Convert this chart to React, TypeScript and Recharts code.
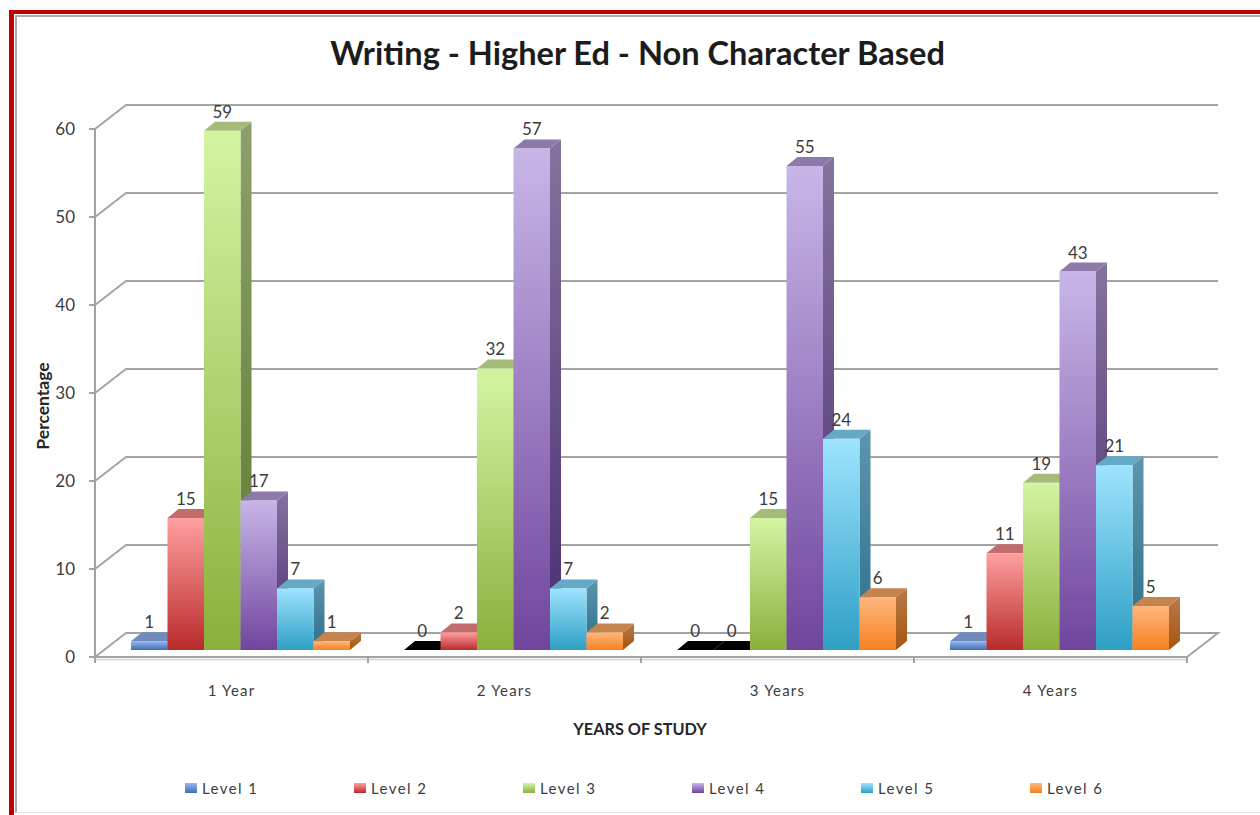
import { Bar, BarChart, CartesianGrid, LabelList, Legend, XAxis, YAxis } from "recharts";

const categories = ["1 Year", "2 Years", "3 Years", "4 Years"];
const levelNames = ["Level 1", "Level 2", "Level 3", "Level 4", "Level 5", "Level 6"];
const level1 = [1, 0, 0, 1];
const level2 = [15, 2, 0, 11];
const level3 = [59, 32, 15, 19];
const level4 = [17, 57, 55, 43];
const level5 = [7, 7, 24, 21];
const level6 = [1, 2, 6, 5];
const yTicks = [0, 10, 20, 30, 40, 50, 60];

const levels = [level1, level2, level3, level4, level5, level6];
const rows = categories.map((name, c) => {
  const row: Record<string, string | number> = { name };
  levelNames.forEach((lvl, l) => (row[lvl] = levels[l][c]));
  return row;
});

// front-light, front-dark, top face, side-light, side-dark
const tones = [
  ["#93b8f0", "#3f6fb5", "#6f8abb", "#5f7aa8", "#34558c"],
  ["#ff9f9f", "#b92b2b", "#c26c6c", "#a85a5a", "#7e2020"],
  ["#d3f5a2", "#8bb03d", "#a5bb7a", "#8da06c", "#5c7a2a"],
  ["#c8b6e8", "#70459d", "#8c7ba8", "#85739f", "#4a2d70"],
  ["#9ee4ff", "#2e9fc4", "#64a9c5", "#5d95ac", "#2a6e8b"],
  ["#ffb67f", "#f5811f", "#c5834e", "#b97a48", "#a6550f"],
];

const AXIS_GREY = "#a3a3a3";
const TEXT_GREY = "#3c3c3c";
const BODY_FONT = "Lato, 'Open Sans', sans-serif";

const PLOT_LEFT = 95;
const PLOT_RIGHT = 1187;
const PLOT_TOP = 129;
const PLOT_BOTTOM = 657;
const HALF_BAND = (PLOT_RIGHT - PLOT_LEFT) / categories.length / 2;

// wall sits behind the front plane, bars sit part way into the floor
const WALL_DX = 31;
const WALL_DY = -24;
const BAR_DX = 9;
const BAR_DY = -7;
const DEPTH_X = 11;
const DEPTH_Y = -9;

function Box3D({ x, y, width, height, tone }: any) {
  const left = x + BAR_DX;
  const top = y + BAR_DY;
  const right = left + width;
  const bottom = top + height;
  const topFace = `${left},${top} ${left + DEPTH_X},${top + DEPTH_Y} ${right + DEPTH_X},${top + DEPTH_Y} ${right},${top}`;
  if (height <= 0) {
    return <polygon points={topFace} fill="#000000" />;
  }
  return (
    <g>
      <polygon
        points={`${right},${top} ${right + DEPTH_X},${top + DEPTH_Y} ${right + DEPTH_X},${bottom + DEPTH_Y} ${right},${bottom}`}
        fill={`url(#side${tone})`}
      />
      <polygon points={topFace} fill={tones[tone][2]} />
      <rect x={left} y={top} width={width} height={height} fill={`url(#front${tone})`} />
    </g>
  );
}

function ValueLabel({ x, y, width, value }: any) {
  return (
    <text
      x={x + BAR_DX + width / 2}
      y={y + BAR_DY - 13}
      textAnchor="middle"
      fontFamily={BODY_FONT}
      fontSize={17}
      fill={TEXT_GREY}
    >
      {value}
    </text>
  );
}

// wall line running back from the front plane, floor edge closes on the right
function WallLine({ x1, x2, y1, key }: any) {
  const isFloor = Math.abs(y1 - PLOT_BOTTOM) < 1;
  const backY = y1 + WALL_DY;
  return (
    <g key={key}>
      <path
        d={`M${x1},${y1} L${x1 + WALL_DX},${backY} L${x2 + WALL_DX},${backY}${isFloor ? ` L${x2},${y1}` : ""}`}
        fill="none"
        stroke={AXIS_GREY}
        strokeWidth={2}
      />
      {isFloor && <line x1={x1} x2={x2} y1={y1 + 2.5} y2={y1 + 2.5} stroke="#d4d4d4" strokeWidth={1.5} />}
    </g>
  );
}

function CategoryTick({ x, y, payload, index }: any) {
  return (
    <g>
      {index === 0 && <line x1={x - HALF_BAND} x2={x - HALF_BAND} y1={PLOT_BOTTOM} y2={PLOT_BOTTOM + 6} stroke={AXIS_GREY} strokeWidth={2} />}
      <line x1={x + HALF_BAND} x2={x + HALF_BAND} y1={PLOT_BOTTOM} y2={PLOT_BOTTOM + 6} stroke={AXIS_GREY} strokeWidth={2} />
      <text x={x} y={y + 31} textAnchor="middle" fontFamily={BODY_FONT} fontSize={15} letterSpacing={1.2} fill={TEXT_GREY}>
        {payload.value}
      </text>
    </g>
  );
}

function LevelLegend() {
  return (
    <div style={{ display: "flex", height: 30, paddingLeft: 185, alignItems: "center" }}>
      {levelNames.map((name, i) => (
        <div key={name} style={{ width: 169, display: "flex", alignItems: "center", flex: "none" }}>
          <span
            style={{
              width: 12,
              height: 10,
              marginRight: 5,
              background: `linear-gradient(${tones[i][0]}, ${tones[i][1]})`,
            }}
          />
          <span style={{ fontFamily: BODY_FONT, fontSize: 15, letterSpacing: 1.4, color: TEXT_GREY }}>{name}</span>
        </div>
      ))}
    </div>
  );
}

export default function App() {
  return (
    <div style={{ position: "absolute", left: 0, top: 0, width: 1260, height: 815, background: "#fff", overflow: "hidden" }}>
      {/* page frame: red rule with a thin grey inner line */}
      <div
        style={{
          position: "absolute",
          left: 9,
          top: 10,
          right: 0,
          bottom: 0,
          borderLeft: "5px solid #c00000",
          borderTop: "4px solid #c00000",
        }}
      >
        <div
          style={{
            position: "absolute",
            left: 1,
            top: 1,
            right: 0,
            bottom: 2,
            borderLeft: "2px solid #ababab",
            borderTop: "2px solid #ababab",
            borderBottom: "1px solid #e4e4e4",
          }}
        />
      </div>
      <div style={{ position: "absolute", left: 0, top: 0 }}>
        <BarChart
          width={1260}
          height={815}
          data={rows}
          barSize={36.5}
          barGap={0}
          margin={{ top: PLOT_TOP, right: 1260 - PLOT_RIGHT, bottom: 88, left: 45 }}
        >
          <defs>
            {tones.map((t, i) => (
              <linearGradient key={`front${i}`} id={`front${i}`} x1="0" y1="0" x2="0" y2="1">
                <stop offset="0%" stopColor={t[0]} />
                <stop offset="100%" stopColor={t[1]} />
              </linearGradient>
            ))}
            {tones.map((t, i) => (
              <linearGradient key={`side${i}`} id={`side${i}`} x1="0" y1="0" x2="0" y2="1">
                <stop offset="0%" stopColor={t[3]} />
                <stop offset="100%" stopColor={t[4]} />
              </linearGradient>
            ))}
          </defs>
          <text x={637.5} y={65} textAnchor="middle" fontFamily={BODY_FONT} fontWeight={700} fontSize={32.6} fill="#1c1c1c">
            Writing - Higher Ed - Non Character Based
          </text>
          <text
            x={49}
            y={406}
            textAnchor="middle"
            transform="rotate(-90 49 406)"
            fontFamily={BODY_FONT}
            fontWeight={700}
            fontSize={17.5}
            fill="#262626"
          >
            Percentage
          </text>
          <text x={640} y={735} textAnchor="middle" fontFamily={BODY_FONT} fontWeight={700} fontSize={16.3} fill="#262626">
            YEARS OF STUDY
          </text>
          <CartesianGrid vertical={false} horizontal={WallLine as any} />
          <XAxis
            dataKey="name"
            height={40}
            axisLine={{ stroke: AXIS_GREY, strokeWidth: 2 }}
            tickLine={false}
            tick={CategoryTick as any}
            interval={0}
          />
          <YAxis
            width={50}
            domain={[0, 60]}
            ticks={yTicks}
            axisLine={{ stroke: AXIS_GREY, strokeWidth: 2 }}
            tickLine={{ stroke: AXIS_GREY, strokeWidth: 2 }}
            tickSize={6}
            tickMargin={14}
            tick={{ fill: TEXT_GREY, fontSize: 17, fontFamily: BODY_FONT }}
          />
          <Legend
            verticalAlign="bottom"
            content={<LevelLegend />}
            wrapperStyle={{ left: 0, top: 773, bottom: "auto", width: 1260 }}
          />
          {levelNames.map((name, i) => (
            <Bar
              key={name}
              dataKey={name}
              isAnimationActive={false}
              shape={(p: any) => <Box3D {...p} tone={i} />}
            >
              <LabelList dataKey={name} content={ValueLabel as any} />
            </Bar>
          ))}
        </BarChart>
      </div>
    </div>
  );
}
